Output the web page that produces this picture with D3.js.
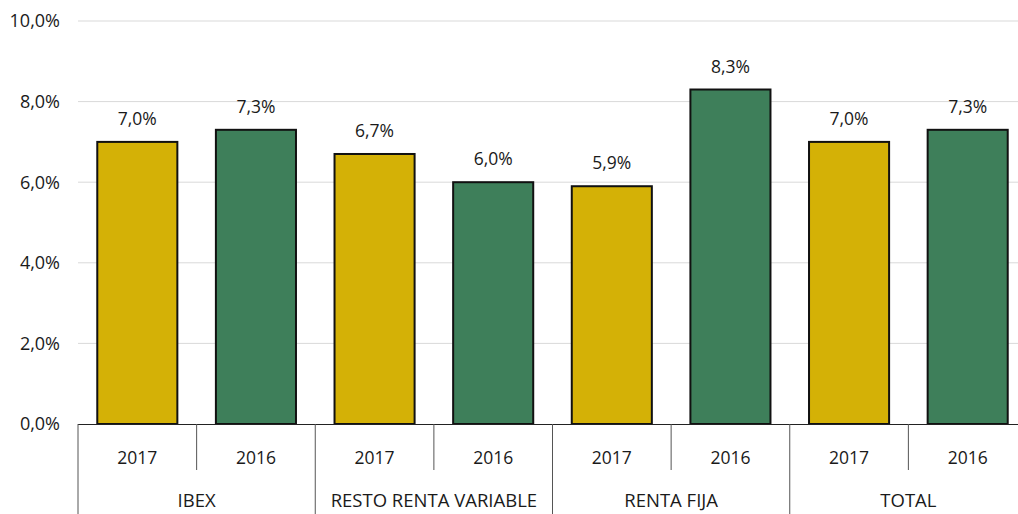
<!DOCTYPE html>
<html><head><meta charset="utf-8">
<script src="https://cdn.jsdelivr.net/npm/d3@7"></script>
<style>body{margin:0;background:#fff}svg text{font-family:"Open Sans","Noto Sans",sans-serif;fill:#1a1a1a}</style>
</head><body><svg id="c" width="1018" height="514"></svg>
<script>
const groups = ["IBEX","RESTO RENTA VARIABLE","RENTA FIJA","TOTAL"];
const years = ["2017","2016"];
const values2017 = [7.0,6.7,5.9,7.0];
const values2016 = [7.3,6.0,8.3,7.3];
const yTicks = [0,2,4,6,8,10];
const colors = {"2017":"#D4B106","2016":"#3E7F5A"};

(function(){
const data = [];
groups.forEach((g,i)=>{ data.push({g, y:"2017", v:values2017[i]}); data.push({g, y:"2016", v:values2016[i]}); });

const svg = d3.select("#c");
const pL=78, pR=1027, pT=21, pB=424;
const x0 = d3.scaleBand().domain(groups).range([pL,pR]);
const x1 = d3.scaleBand().domain(years).range([0,x0.bandwidth()]).paddingInner(0.325).paddingOuter(0.1625);
const y = d3.scaleLinear().domain([0,10]).range([pB,pT]);
const fmt = v => d3.format(".1f")(v).replace(".",",") + "%";

svg.append("g").selectAll("line").data(yTicks.filter(t=>t>0)).join("line")
  .attr("x1",pL).attr("x2",1018).attr("y1",d=>y(d)).attr("y2",d=>y(d))
  .attr("stroke","#d9d9d9").attr("stroke-width",1);
svg.append("g").selectAll("text").data(yTicks).join("text")
  .attr("x",60).attr("y",d=>y(d)).attr("dy","0.35em").attr("text-anchor","end")
  .attr("font-size",18).text(d=>fmt(d));

svg.append("g").selectAll("rect").data(data).join("rect")
  .attr("x",d=>x0(d.g)+x1(d.y)).attr("width",x1.bandwidth())
  .attr("y",d=>y(d.v)).attr("height",d=>pB-y(d.v))
  .attr("fill",d=>colors[d.y]).attr("stroke","#111").attr("stroke-width",2);
svg.append("g").selectAll("text").data(data).join("text")
  .attr("x",d=>x0(d.g)+x1(d.y)+x1.bandwidth()/2).attr("y",d=>y(d.v)-17)
  .attr("text-anchor","middle").attr("font-size",17.5).text(d=>fmt(d.v));

svg.append("line").attr("x1",pL).attr("x2",1018).attr("y1",pB+0.5).attr("y2",pB+0.5).attr("stroke","#222").attr("stroke-width",1);
const sub = svg.append("g");
groups.forEach(g=>{
  const bw = x0.bandwidth();
  sub.append("line").attr("x1",x0(g)+bw/2).attr("x2",x0(g)+bw/2).attr("y1",pB).attr("y2",470).attr("stroke","#555");
  years.forEach((yr,j)=>{
    sub.append("text").attr("x",x0(g)+bw/4+j*bw/2).attr("y",464).attr("text-anchor","middle").attr("font-size",17.5).text(yr);
  });
  sub.append("line").attr("x1",x0(g)).attr("x2",x0(g)).attr("y1",pB).attr("y2",514).attr("stroke","#555");
  sub.append("text").attr("x",x0(g)+bw/2).attr("y",507).attr("text-anchor","middle").attr("font-size",18.5).text(g);
});
})();
</script></body></html>
